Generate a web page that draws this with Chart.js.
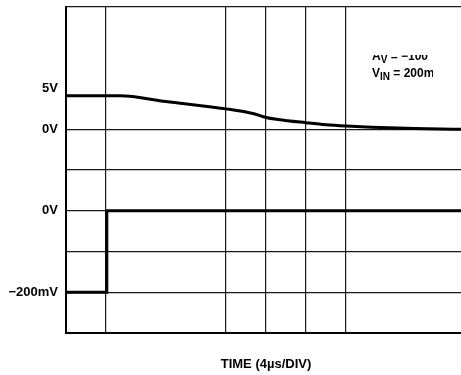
<!DOCTYPE html>
<html>
<head>
<meta charset="utf-8">
<script src="https://cdn.jsdelivr.net/npm/chart.js@4.4.0/dist/chart.umd.min.js"></script>
<style>
  html, body { margin: 0; padding: 0; background: #fff; overflow: hidden; }
  #wrap { width: 461px; height: 375px; overflow: hidden; }
</style>
</head>
<body>
<div id="wrap"><canvas id="scope" width="470" height="375"></canvas></div>
<script>
// time in divisions (4us/div), level in screen divisions
const outTime  = [0, 1.35, 2.5, 4.0, 4.7, 5.0, 5.3, 6.0, 6.5, 7.0, 8.3, 9.9];
const outLevel = [5.82, 5.82, 5.68, 5.50, 5.38, 5.29, 5.24, 5.16, 5.11, 5.08, 5.03, 5.0];
const inTime   = [0, 1.02, 1.02, 9.9];
const inLevel  = [1, 1, 3, 3];

const yTickDivs = [1, 3, 5, 6];
const yTickText = ['\u2212200mV', '0V', '0V', '5V'];
const hLines = [1, 2, 3, 4, 5, 8];
const vLines = [1, 4, 5, 6, 7, 10];

const FONT = '"Liberation Sans", Arial, Helvetica, sans-serif';

function pts(xs, ys) {
    return xs.map((x, i) => ({x: x, y: ys[i]}));
}

// gain / input note, clipped like in the original scope shot
const notePlugin = {
    id: 'note',
    afterDraw(chart) {
        const ctx = chart.ctx;
        ctx.save();
        ctx.beginPath();
        ctx.rect(360, 55, 73, 35);
        ctx.clip();
        ctx.fillStyle = '#000';
        ctx.textBaseline = 'alphabetic';
        ctx.textAlign = 'left';
        let x = 372;
        ctx.font = 'bold 12px ' + FONT;
        ctx.fillText('A', x, 60); x += ctx.measureText('A').width;
        ctx.font = 'bold 10px ' + FONT;
        ctx.fillText('V', x, 62.5); x += ctx.measureText('V').width;
        ctx.font = 'bold 12px ' + FONT;
        ctx.fillText(' = \u2212100', x, 60);
        x = 372;
        ctx.fillText('V', x, 77); x += ctx.measureText('V').width;
        ctx.font = 'bold 10px ' + FONT;
        ctx.fillText('IN', x, 80); x += ctx.measureText('IN').width;
        ctx.font = 'bold 12px ' + FONT;
        ctx.fillText(' = 200mV', x, 77);
        ctx.restore();
    }
};

const config = {
    type: 'line',
    data: {
        datasets: [{
            label: 'output',
            data: pts(outTime, outLevel),
            borderColor: '#000',
            borderWidth: 3,
            pointRadius: 0,
            cubicInterpolationMode: 'monotone'
        }, {
            label: 'input',
            data: pts(inTime, inLevel),
            borderColor: '#000',
            borderWidth: 3,
            pointRadius: 0,
            tension: 0
        }]
    },
    options: {
        responsive: false,
        animation: false,
        layout: { padding: { top: 7, right: 4, left: 0, bottom: 0 } },
        plugins: {
            legend: { display: false },
            tooltip: { enabled: false }
        },
        scales: {
            x: {
                type: 'linear',
                min: 0,
                max: 10,
                afterBuildTicks: (s) => { s.ticks = [0,1,2,3,4,5,6,7,8,9,10].map(v => ({value: v})); },
                afterFit: (s) => { s.height = 42; },
                ticks: { display: false },
                grid: {
                    drawTicks: false,
                    lineWidth: 1.2,
                    color: (c) => vLines.includes(c.tick.value) ? '#1a1a1a' : 'rgba(0,0,0,0)'
                },
                border: { display: true, color: '#000', width: 2 },
                title: {
                    display: true,
                    text: 'TIME (4\u00b5s/DIV)',
                    color: '#000',
                    font: { family: FONT, size: 13, weight: 'bold' },
                    padding: { top: 18, bottom: 3 }
                }
            },
            y: {
                type: 'linear',
                min: 0,
                max: 8,
                afterBuildTicks: (s) => { s.ticks = [0,1,2,3,4,5,6,7,8].map(v => ({value: v})); },
                afterFit: (s) => { s.width = 66; s.paddingTop = 0; s.paddingBottom = 0; },
                ticks: {
                    padding: 8,
                    color: '#000',
                    font: { family: FONT, size: 13, weight: 'bold' },
                    callback: (v) => {
                        const i = yTickDivs.indexOf(v);
                        return i >= 0 ? yTickText[i] : '';
                    }
                },
                grid: {
                    drawTicks: false,
                    lineWidth: 1.2,
                    color: (c) => hLines.includes(c.tick.value) ? '#1a1a1a' : 'rgba(0,0,0,0)'
                },
                border: { display: true, color: '#000', width: 2 }
            }
        }
    },
    plugins: [notePlugin]
};

const myChart = new Chart(document.getElementById('scope').getContext('2d'), config);
</script>
</body>
</html>
